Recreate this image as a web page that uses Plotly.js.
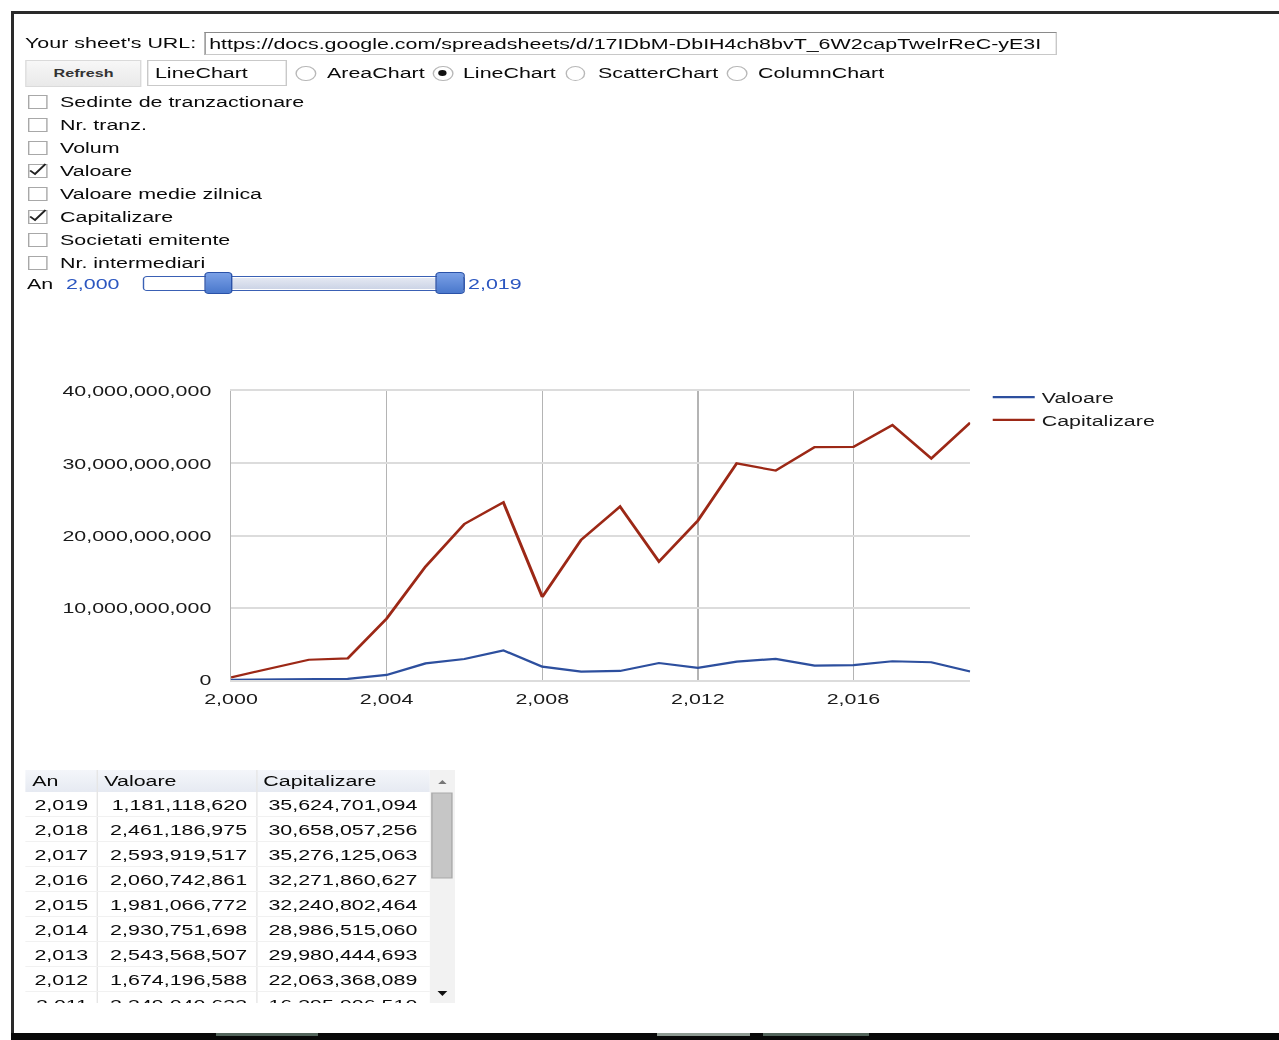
<!DOCTYPE html>
<html><head><meta charset="utf-8">
<script src="https://cdn.plot.ly/plotly-3.0.1.min.js"></script>
<style>
html,body{margin:0;padding:0;background:#fff;width:1279px;height:1040px;overflow:hidden;}
body{font-family:"Liberation Sans",Arial,sans-serif;color:#0a0a0a;position:relative;}
#wrap{position:absolute;left:0;top:0;width:913.6px;height:1040px;transform:scaleX(1.4);transform-origin:0 0;}
.t{position:absolute;font-size:15.3px;line-height:18px;white-space:nowrap;}
.cb{position:absolute;width:13.6px;height:14px;border:1px solid #a8a8a8;background:#fff;box-sizing:border-box;}
.rd{position:absolute;width:14.3px;height:15px;border:1px solid #b8b8b8;border-radius:50%;box-sizing:border-box;background:#fff;}
.bar{position:absolute;}
#tbl{position:absolute;left:17.9px;top:770px;width:307.1px;height:233px;overflow:hidden;background:#fff;}
.row{position:absolute;left:0;width:289.2px;height:25px;border-bottom:1px solid #f1f1f1;box-sizing:border-box;}
.cell{position:absolute;top:0;height:25px;line-height:25px;font-size:15.3px;white-space:nowrap;box-sizing:border-box;}
</style>
</head><body>
<div id="wrap">
  <div class="t" style="left:17.9px;top:34px;">Your sheet's URL:</div>
  <div style="position:absolute;left:146.4px;top:32px;width:608.6px;height:23px;border:1px solid #8a8a8a;border-right-color:#c8c8c8;border-bottom-color:#c8c8c8;box-sizing:border-box;overflow:hidden;">
    <div class="t" style="left:2px;top:1.5px;">https://docs.google.com/spreadsheets/d/17IDbM-DbIH4ch8bvT_6W2capTwelrReC-yE3I</div>
  </div>
  <div style="position:absolute;left:17.9px;top:60px;width:83.6px;height:27px;background:linear-gradient(#f7f7f7,#e9e9e9);border:1px solid #dadada;box-sizing:border-box;text-align:center;line-height:25px;font-size:11.5px;font-weight:bold;color:#333;">Refresh</div>
  <div style="position:absolute;left:105px;top:60px;width:100px;height:26px;border:1px solid #c9c9c9;box-sizing:border-box;"></div>
  <div class="t" style="left:110.7px;top:64px;">LineChart</div>
  <div id="radios"></div>
  <div id="checks"></div>
  <div class="t" style="left:19.3px;top:275px;">An</div>
  <div class="t" style="left:47.1px;top:275px;color:#2b56c0;">2,000</div>
  <div style="position:absolute;left:102.1px;top:276px;width:230px;height:15px;border:1.5px solid #3a60b4;border-radius:3px;background:#fff;box-sizing:border-box;"></div>
  <div style="position:absolute;left:160px;top:278px;width:160px;height:11px;background:linear-gradient(#e4e8f2,#ccd4e6);"></div>
  <div style="position:absolute;left:146.4px;top:272px;width:20px;height:22px;border:1.5px solid #2a52a8;border-radius:3px;background:linear-gradient(#7aa0e6,#4a78cc);box-sizing:border-box;"></div>
  <div style="position:absolute;left:311.4px;top:272px;width:20.7px;height:22px;border:1.5px solid #2a52a8;border-radius:3px;background:linear-gradient(#7aa0e6,#4a78cc);box-sizing:border-box;"></div>
  <div class="t" style="left:334.3px;top:275px;color:#2b56c0;">2,019</div>
  <div id="chart" style="position:absolute;left:0;top:340px;width:913px;height:400px;"></div>
  <div id="tbl"></div>
</div>
<div class="bar" style="left:11px;top:11px;width:1268px;height:3px;background:#2a2a2a;"></div>
<div class="bar" style="left:11px;top:11px;width:2.5px;height:1025px;background:#2a2a2a;"></div>
<div class="bar" style="left:11px;top:1033px;width:1268px;height:7px;background:#080808;"></div>
<div class="bar" style="left:216px;top:1033px;width:102px;height:3px;background:#52645a;"></div>
<div class="bar" style="left:657px;top:1033px;width:93px;height:3px;background:#8e9a92;"></div>
<div class="bar" style="left:763px;top:1033px;width:106px;height:3px;background:#52645a;"></div>
<script>
// ---- data ----
var years = [2000, 2001, 2002, 2003, 2004, 2005, 2006, 2007, 2008, 2009, 2010, 2011, 2012, 2013, 2014, 2015, 2016, 2017, 2018, 2019];
var valoare = [30000000, 60000000, 100000000, 150000000, 700000000, 2300000000, 2900000000, 4100000000, 1850000000, 1150000000, 1250000000, 2349040633, 1674196588, 2543568507, 2930751698, 1981066772, 2060742861, 2593919517, 2461186975, 1181118620];
var capitalizare = [370000000, 1600000000, 2800000000, 3000000000, 8500000000, 15700000000, 21600000000, 24600000000, 11500000000, 19400000000, 24000000000, 16395906510, 22063368089, 29980444693, 28986515060, 32240802464, 32271860627, 35276125063, 30658057256, 35624701094];
var seriesNames = ["Valoare", "Capitalizare"];
var chartTypes = ["AreaChart", "LineChart", "ScatterChart", "ColumnChart"];
var checkLabels = ["Sedinte de tranzactionare", "Nr. tranz.", "Volum", "Valoare", "Valoare medie zilnica", "Capitalizare", "Societati emitente", "Nr. intermediari"];
var checked = [false, false, false, true, false, true, false, false];
var tableHeaders = ["An", "Valoare", "Capitalizare"];
var tableVisibleRows = 9; // rows shown in the scrolled table view (2019 down to 2011)

// ---- form controls ----
var radioLeft = [211.4, 309.3, 403.6, 519.3];
var radioText = [233.6, 330.7, 427.1, 541.4];
var rh = '';
chartTypes.forEach(function (c, i) {
  rh += '<div class="rd" style="left:' + radioLeft[i] + 'px;top:65.5px;">' +
    (c === 'LineChart' ? '<div style="position:absolute;left:3px;top:3.5px;width:6px;height:6px;border-radius:50%;background:#111;"></div>' : '') + '</div>';
  rh += '<div class="t" style="left:' + radioText[i] + 'px;top:64px;">' + c + '</div>';
});
document.getElementById('radios').innerHTML = rh;

var ch = '';
checkLabels.forEach(function (l, i) {
  var cy = 102 + 23 * i;
  ch += '<div class="cb" style="left:20px;top:' + (cy - 7) + 'px;">' +
    (checked[i] ? '<svg width="14" height="14" style="position:absolute;left:-1px;top:-2px;overflow:visible"><path d="M1.5,7.5 L5,11 L12.5,1" fill="none" stroke="#222" stroke-width="1.6"/></svg>' : '') + '</div>';
  ch += '<div class="t" style="left:42.9px;top:' + (cy - 9) + 'px;">' + l + '</div>';
});
document.getElementById('checks').innerHTML = ch;

// ---- table ----
function fmt(v) { return Math.round(v).toLocaleString('en-US'); }
var colL = [0, 51.4, 165];
var colW = [51.4, 113.6, 124.2];
var th = '<div style="position:absolute;left:0;top:0;width:289.2px;height:22px;background:linear-gradient(#f4f6fa,#e6eaf2);"></div>';
th += '<div style="position:absolute;left:51.4px;top:0;width:1px;height:233px;background:#e6e6e6;"></div>';
th += '<div style="position:absolute;left:165px;top:0;width:1px;height:233px;background:#e6e6e6;"></div>';
tableHeaders.forEach(function (h, i) {
  th += '<div class="cell" style="left:' + (colL[i] + 5.2) + 'px;height:22px;line-height:22px;">' + h + '</div>';
});
var rowIdx = 0;
for (var k = years.length - 1; k >= years.length - tableVisibleRows; k--) {
  var rowTop = 22 + 25 * rowIdx;
  var vals = [years[k], valoare[k], capitalizare[k]];
  th += '<div class="row" style="top:' + rowTop + 'px;">';
  for (var c = 0; c < 3; c++) {
    th += '<div class="cell" style="left:' + colL[c] + 'px;width:' + colW[c] + 'px;text-align:right;padding-right:' + (c === 2 ? 9 : 6.4) + 'px;">' + fmt(vals[c]) + '</div>';
  }
  th += '</div>';
  rowIdx++;
}
// scrollbar
th += '<div style="position:absolute;left:289.2px;top:0;width:17.9px;height:233px;background:#f2f2f2;"></div>';
th += '<svg style="position:absolute;left:289.2px;top:0" width="18" height="233">' +
  '<path d="M6,14 L9,10 L12,14 Z" fill="#777"/>' +
  '<rect x="1.5" y="23" width="14.3" height="85" fill="#c6c6c6" stroke="#a9a9a9" stroke-width="1"/>' +
  '<path d="M5.5,221 L12.5,221 L9,226 Z" fill="#111"/></svg>';
document.getElementById('tbl').innerHTML = th;

// ---- chart ----
var colors = ['#2d4f9e', '#9c2816'];
var traces = [
  { x: years, y: valoare, name: seriesNames[0], type: 'scatter', mode: 'lines', line: { color: colors[0], width: 2.2 } },
  { x: years, y: capitalizare, name: seriesNames[1], type: 'scatter', mode: 'lines', line: { color: colors[1], width: 2.2 } }
];
var layout = {
  width: 913, height: 400, autosize: false,
  margin: { l: 165, r: 220.1, t: 51, b: 60, pad: 0 },
  paper_bgcolor: 'rgba(0,0,0,0)', plot_bgcolor: '#fff',
  font: { family: '"Liberation Sans", Arial, sans-serif', size: 15.3, color: '#1a1a1a' },
  showlegend: true,
  legend: { x: 1.021, xanchor: 'left', y: 1.036, yanchor: 'top', font: { size: 15.3, color: '#1a1a1a' }, bgcolor: 'rgba(0,0,0,0)', borderwidth: 0 },
  xaxis: { range: [2000, 2019], tick0: 2000, dtick: 4, tickformat: ',d', showgrid: true, gridcolor: '#b4b4b4', gridwidth: 1, zeroline: false, showline: true, mirror: true, linecolor: '#dcdcdc', linewidth: 2, ticks: '', ticklabelstandoff: 4 },
  yaxis: { range: [0, 4e10], tick0: 0, dtick: 1e10, tickformat: ',d', showgrid: true, gridcolor: '#dcdcdc', gridwidth: 2, zeroline: true, zerolinecolor: '#666', zerolinewidth: 2, showline: true, linecolor: '#b4b4b4', linewidth: 1, ticks: '', ticklabelstandoff: 10 }
};
Plotly.newPlot('chart', traces, layout, { displayModeBar: false, staticPlot: true });
</script>
</body></html>
